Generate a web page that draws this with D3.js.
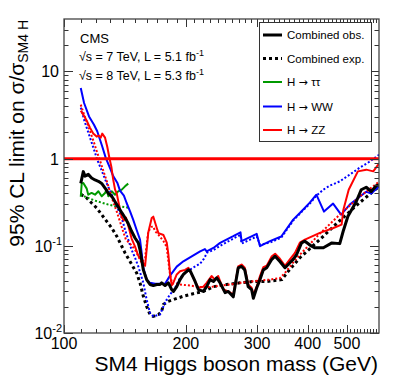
<!DOCTYPE html>
<html>
<head>
<meta charset="utf-8">
<script src="https://cdn.jsdelivr.net/npm/d3@7"></script>
<style>
  body { margin: 0; background: #fff; }
  text { font-family: "Liberation Sans", Arial, Helvetica, sans-serif; fill: #000; }
</style>
</head>
<body>
<script>
(function() {
  // limits, [mass (GeV), limit on sigma/sigma_SM4]
  var combObs = [[110,0.52],[111.6,0.71],[112.7,0.63],[114.8,0.66],[117,0.60],[119.3,0.57],[121.6,0.55],[123.9,0.52],[126.3,0.46],[128.7,0.40],[131.2,0.37],[133.7,0.32],[136.1,0.28],[138.9,0.24],[141.5,0.21],[144.1,0.18],[146.9,0.147],[149.8,0.123],[152.6,0.108],[154.1,0.090],[155.5,0.070],[157,0.053],[160,0.041],[163.1,0.036],[166.2,0.035],[169.5,0.036],[172.7,0.036],[174.3,0.0376],[177.7,0.035],[181.1,0.0376],[184.5,0.0315],[186.4,0.030],[189.9,0.034],[193.5,0.041],[197.2,0.047],[202.9,0.053],[204.9,0.052],[210.8,0.039],[214.7,0.0315],[220.9,0.030],[225.1,0.034],[229.6,0.041],[234,0.039],[238.4,0.043],[243,0.0376],[250,0.029],[254.6,0.030],[261.9,0.026],[269.4,0.056],[274.6,0.058],[279.6,0.053],[285.1,0.034],[290.7,0.0315],[293.6,0.025],[299.3,0.033],[304.9,0.041],[310.8,0.053],[316.8,0.056],[326.1,0.070],[332.3,0.076],[341.5,0.066],[351.5,0.056],[361.4,0.064],[368.3,0.070],[375.4,0.079],[386.2,0.108],[393.6,0.113],[408.9,0.099],[416.7,0.095],[437.2,0.095],[459,0.108],[480,0.106],[489.4,0.147],[502.8,0.218],[527,0.32],[542.2,0.44],[557.9,0.47],[574.1,0.42],[590.6,0.49],[600,0.50]];
  var combExp = [[110,0.39],[113.8,0.354],[117,0.31],[120.4,0.272],[123.9,0.228],[127.5,0.191],[131.2,0.16],[135,0.129],[138.9,0.099],[141.5,0.083],[145.6,0.066],[151.1,0.049],[154.1,0.0376],[157,0.0264],[160,0.0202],[163.1,0.0163],[166.2,0.0155],[171.1,0.0163],[174.3,0.0177],[175.9,0.0212],[180.9,0.0231],[186.4,0.0242],[191.6,0.0253],[197.2,0.0264],[204.7,0.0276],[212.6,0.0288],[220.9,0.030],[234,0.034],[252,0.036],[272.2,0.0376],[293.6,0.039],[317,0.039],[345.4,0.041],[355.5,0.049],[382.5,0.073],[428.5,0.118],[480,0.195],[537.6,0.313],[600,0.48]];
  var ttObs = [[110,0.366],[110.6,0.517],[111.6,0.526],[113.8,0.453],[114.8,0.386],[117,0.404],[119.3,0.386],[121.6,0.422],[123.9,0.37],[126.3,0.404],[127.5,0.441],[128.7,0.37],[131.2,0.422],[133.7,0.386],[136.1,0.422],[138.9,0.441],[141.5,0.481],[144.1,0.517]];
  var ttExp = [[110,0.397],[112.7,0.366],[115.9,0.348],[119.3,0.33],[123.9,0.313],[128.7,0.297],[133.7,0.285],[138.9,0.282],[144.1,0.274]];
  var wwObs = [[110,6.47],[112.1,4.35],[115.3,3.05],[118.6,2.45],[120.8,2.06],[124.3,1.38],[126.8,1.02],[130.4,0.75],[132.3,0.63],[135.4,0.53],[137.5,0.43],[140.6,0.376],[142.8,0.31],[145.6,0.249],[148.2,0.2],[151.1,0.153],[154.1,0.118],[155.5,0.084],[157,0.056],[160,0.041],[163.1,0.0376],[167.9,0.0368],[177.7,0.0368],[182.8,0.0455],[189.9,0.0577],[197.2,0.0664],[206.8,0.0758],[216.9,0.0865],[222.9,0.0917],[225.1,0.0865],[233.9,0.0946],[243,0.108],[261.9,0.129],[272.9,0.143],[274.6,0.113],[299.3,0.137],[304.9,0.099],[322.7,0.113],[344.1,0.128],[368.3,0.2],[382.5,0.238],[404.8,0.313],[420.2,0.386],[438.8,0.247],[462.1,0.305],[483.7,0.228],[508,0.297],[537.6,0.366],[558,0.418],[574,0.397],[600,0.48]];
  var wwExp = [[110,3.85],[112.1,2.8],[114.2,2.15],[116.4,1.65],[118.6,1.27],[120.8,0.974],[123.2,0.78],[125.5,0.627],[127.9,0.503],[131.2,0.386],[135,0.284],[138.9,0.209],[141.5,0.153],[144.1,0.118],[146.9,0.09],[149.8,0.073],[152.6,0.058],[157,0.0376],[160,0.0242],[163.1,0.017],[166.2,0.0155],[172.7,0.0163],[176.1,0.0202],[179.4,0.0242],[182.8,0.0276],[188.1,0.0329],[193.5,0.043],[200.8,0.0506],[208.6,0.0562],[216.9,0.0625],[221.8,0.0713],[225.7,0.0836],[234,0.0893],[243,0.1],[261.9,0.121],[272.9,0.134],[274.6,0.106],[299.3,0.128],[304.9,0.103],[322.7,0.109],[344.1,0.124],[368.3,0.195],[382.5,0.234],[404.8,0.305],[420.2,0.376],[437,0.441],[453.5,0.49],[480,0.549],[508,0.656],[537.6,0.788],[569,0.924],[600,1.11]];
  var zzObs = [[110,3.55],[111.6,3.2],[113.8,2.73],[115.9,2.27],[118.1,1.94],[120.4,1.79],[121.9,1.84],[123.2,1.74],[124.3,1.94],[126.3,1.74],[127.9,1.37],[129.4,1.03],[130.9,0.81],[132.3,0.574],[133.7,0.441],[135,0.397],[137.5,0.26],[139,0.211],[140.6,0.195],[142.2,0.211],[144.1,0.171],[146.9,0.121],[149.8,0.098],[152.6,0.077],[155.5,0.068],[158.6,0.059],[161.5,0.142],[164.7,0.208],[166.2,0.216],[169.5,0.16],[171.1,0.14],[176.1,0.133],[179.4,0.109],[181.1,0.079],[182.8,0.048],[184.5,0.035],[186.4,0.038],[189.9,0.047],[193.5,0.051],[199.1,0.053],[202.9,0.056],[204.9,0.051],[210.8,0.039],[214.7,0.033],[220.9,0.034],[225.1,0.0376],[231.5,0.045],[235.9,0.041],[240.4,0.045],[247.4,0.0315],[254.6,0.030],[261.9,0.0276],[269.4,0.058],[274.6,0.061],[279.6,0.056],[285.1,0.036],[290.7,0.033],[293.6,0.0276],[299.3,0.034],[304.9,0.045],[310.8,0.057],[316.8,0.059],[326.1,0.076],[332.3,0.081],[341.5,0.071],[351.5,0.059],[361.4,0.070],[372,0.083],[382.5,0.109],[393.6,0.118],[428.5,0.141],[463,0.16],[485,0.175],[490,0.26],[505,0.44],[532,0.715],[558,0.748],[580.7,0.715],[600,0.877]];
  var zzExp = [[110,4.16],[112.1,3.2],[114.2,2.52],[116.4,1.96],[118.6,1.53],[120.8,1.17],[123.2,0.9],[125.5,0.691],[127.9,0.531],[131.2,0.357],[135,0.247],[137.5,0.19],[140,0.146],[142.2,0.118],[145.6,0.106],[149.8,0.09],[152.6,0.076],[155.5,0.064],[158.6,0.073],[161.5,0.146],[164.7,0.166],[166.2,0.166],[167.9,0.147],[171.1,0.134],[176.1,0.113],[179.4,0.097],[181.1,0.066],[182.8,0.047],[185,0.037],[188.1,0.037],[193.5,0.036],[204.9,0.035],[216.9,0.0336],[229.6,0.0336],[243,0.035],[257.2,0.036],[272.2,0.0376],[288.1,0.0388],[304.9,0.04],[322.7,0.041],[341.5,0.0426],[351.5,0.049],[367.8,0.064],[382.5,0.079],[428.5,0.138],[480,0.228],[537.6,0.366],[600,0.545]];

  var xMajor = [100, 200, 300, 400, 500];
  var yMajor = [0.01, 0.1, 1, 10];
  var yLabels = [["10", "-2"], ["10", "-1"], ["1", ""], ["10", ""]];

  var w = 399, h = 383;
  var left = 64, top = 19, right = 379, bottom = 333;

  var x = d3.scaleLog().domain([100, 600]).range([left, right]);
  var y = d3.scaleLog().domain([0.01, 40]).range([bottom, top]);

  var svg = d3.select("body").append("svg")
    .attr("width", w)
    .attr("height", h);

  svg.append("defs").append("clipPath").attr("id", "plotclip")
    .append("rect").attr("x", left).attr("y", top)
    .attr("width", right - left).attr("height", bottom - top);

  var line = d3.line()
    .x(function(d) { return x(d[0]); })
    .y(function(d) { return y(d[1]); });

  // series: data, colour, width, dashed?  (drawing order = stacking order)
  var series = [
    { data: combExp, color: "#000", width: 3, dash: "3,3" },
    { data: ttExp, color: "#009900", width: 2, dash: "2,2" },
    { data: ttObs, color: "#009900", width: 2, dash: null },
    { data: wwExp, color: "#0000ff", width: 2, dash: "2,2" },
    { data: wwObs, color: "#0000ff", width: 2, dash: null },
    { data: zzExp, color: "#ff0000", width: 2, dash: "2,2" },
    { data: zzObs, color: "#ff0000", width: 2, dash: null },
    { data: combObs, color: "#000", width: 3, dash: null }
  ];

  var plot = svg.append("g").attr("clip-path", "url(#plotclip)");
  plot.selectAll("path.series")
    .data(series)
    .enter().append("path")
    .attr("class", "series")
    .attr("d", function(d) { return line(d.data); })
    .attr("fill", "none")
    .attr("stroke", function(d) { return d.color; })
    .attr("stroke-width", function(d) { return d.width; })
    .attr("stroke-dasharray", function(d) { return d.dash; })
    .attr("stroke-linejoin", "round");

  // SM4 = 1 line
  plot.append("line")
    .attr("x1", left).attr("x2", right)
    .attr("y1", y(1)).attr("y2", y(1))
    .attr("stroke", "#ff0000")
    .attr("stroke-width", 3);

  // ticks on all four sides, ROOT style
  var xMinor = d3.range(110, 600, 10).filter(function(m) { return xMajor.indexOf(m) < 0; });
  var yMinor = [];
  [0.01, 0.1, 1, 10].forEach(function(dec) {
    for (var k = 2; k <= 9; k++) { if (dec * k < 40) yMinor.push(dec * k); }
  });

  var ticks = svg.append("g").attr("stroke", "#333").attr("stroke-width", 1);
  function xTicks(vals, len) {
    vals.forEach(function(v) {
      var px = Math.round(x(v)) + 0.5;
      ticks.append("line").attr("x1", px).attr("x2", px).attr("y1", bottom).attr("y2", bottom - len);
      ticks.append("line").attr("x1", px).attr("x2", px).attr("y1", top).attr("y2", top + len);
    });
  }
  function yTicks(vals, len) {
    vals.forEach(function(v) {
      var py = Math.round(y(v)) + 0.5;
      ticks.append("line").attr("x1", left).attr("x2", left + len).attr("y1", py).attr("y2", py);
      ticks.append("line").attr("x1", right).attr("x2", right - len).attr("y1", py).attr("y2", py);
    });
  }
  xTicks(xMajor, 8);
  xTicks(xMinor, 4);
  yTicks(yMajor, 9);
  yTicks(yMinor, 4.5);

  svg.append("rect")
    .attr("x", left).attr("y", top)
    .attr("width", right - left).attr("height", bottom - top)
    .attr("fill", "none")
    .attr("stroke", "#444")
    .attr("stroke-width", 1.3);

  // tick labels
  svg.selectAll("text.xlab")
    .data(xMajor)
    .enter().append("text")
    .attr("class", "xlab")
    .attr("x", function(d) { return x(d); })
    .attr("y", 349)
    .attr("text-anchor", "middle")
    .attr("font-size", 16)
    .text(function(d) { return d; });

  var yl = svg.selectAll("text.ylab")
    .data(yMajor)
    .enter().append("text")
    .attr("class", "ylab")
    .attr("x", function(d, i) { return yLabels[i][1] ? 62 : 59; })
    .attr("y", function(d) { return y(d) + 6; })
    .attr("text-anchor", "end")
    .attr("font-size", 16);
  yl.append("tspan").text(function(d, i) { return yLabels[i][0]; });
  yl.append("tspan")
    .attr("dy", -7)
    .attr("font-size", 11)
    .text(function(d, i) { return yLabels[i][1]; });

  // axis titles
  svg.append("text")
    .attr("x", 378).attr("y", 371)
    .attr("text-anchor", "end")
    .attr("font-size", 21)
    .text("SM4 Higgs boson mass (GeV)");

  var yt = svg.append("text")
    .attr("transform", "translate(24,20) rotate(-90)")
    .attr("text-anchor", "end")
    .attr("font-size", 21);
  yt.append("tspan").text("95% CL limit on \u03c3/\u03c3");
  yt.append("tspan").attr("dy", 4).attr("font-size", 14).text("SM4 H");

  // CMS label
  svg.append("text").attr("x", 80).attr("y", 43).attr("font-size", 13).text("CMS");
  var lumi = [["\u221as = 7 TeV, L = 5.1 fb", 61], ["\u221as = 8 TeV, L = 5.3 fb", 80]];
  lumi.forEach(function(l) {
    var t = svg.append("text").attr("x", 79).attr("y", l[1]).attr("font-size", 12.5);
    t.append("tspan").text(l[0]);
    t.append("tspan").attr("dy", -5).attr("font-size", 9).text("-1");
  });

  // legend
  var legNames = [["Combined obs.", ""], ["Combined exp.", ""], ["H ", "\u03c4\u03c4"], ["H ", "WW"], ["H ", "ZZ"]];
  var legStyle = [series[7], series[0], series[2], series[4], series[6]];
  var legY = [35, 58.5, 82, 106.5, 130];

  svg.append("rect")
    .attr("x", 259.5).attr("y", 22.5)
    .attr("width", 112).attr("height", 119)
    .attr("fill", "#fff")
    .attr("stroke", "#333")
    .attr("stroke-width", 1);

  var leg = svg.selectAll("g.leg")
    .data(legNames)
    .enter().append("g")
    .attr("class", "leg")
    .attr("transform", function(d, i) { return "translate(0," + legY[i] + ")"; });
  leg.append("line")
    .attr("x1", 263).attr("x2", 282)
    .attr("stroke", function(d, i) { return legStyle[i].color; })
    .attr("stroke-width", function(d, i) { return legStyle[i].width; })
    .attr("stroke-dasharray", function(d, i) { return legStyle[i].dash; });
  var lt = leg.append("text")
    .attr("x", 287).attr("y", 4)
    .attr("font-size", 11.5);
  lt.append("tspan").text(function(d) { return d[0]; });
  lt.filter(function(d) { return d[1]; }).append("tspan")
    .style("font-family", "'DejaVu Sans', sans-serif")
    .attr("font-size", 11)
    .text("\u2192 ");
  lt.append("tspan").text(function(d) { return d[1]; });
})();
</script>
</body>
</html>
